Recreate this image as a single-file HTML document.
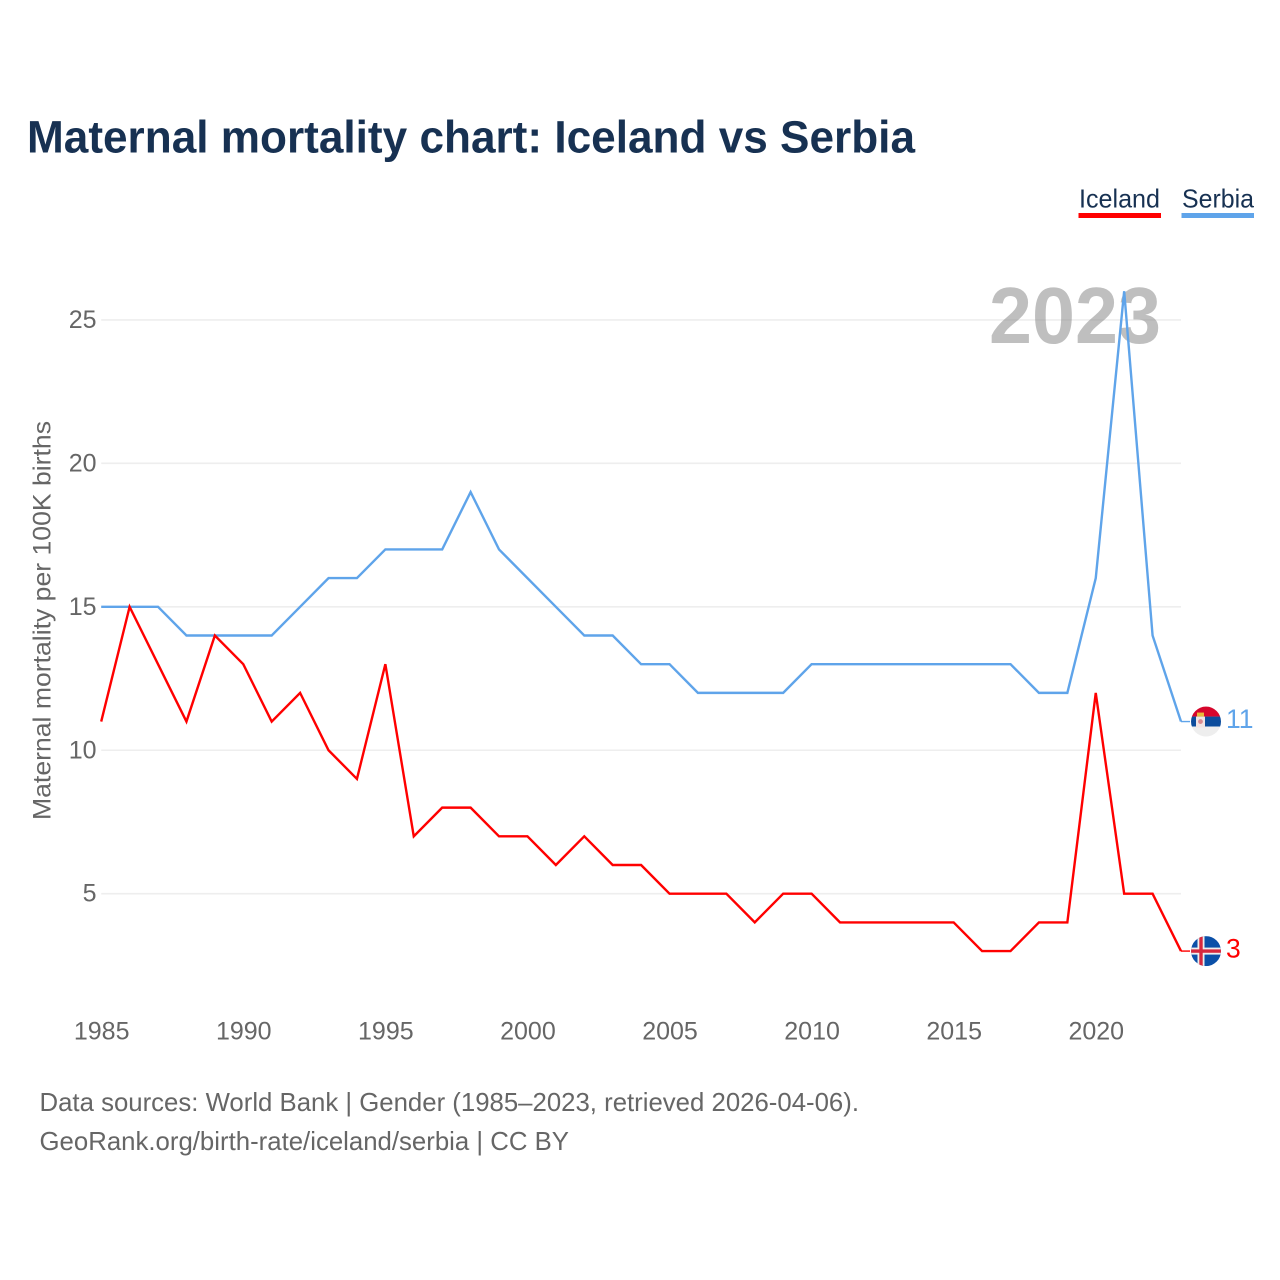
<!DOCTYPE html>
<html lang="en">
<head>
<meta charset="utf-8">
<title>Maternal mortality chart: Iceland vs Serbia</title>
<style>
html,body{margin:0;padding:0;background:#fff;}
svg{display:block;font-family:"Liberation Sans",sans-serif;}
</style>
</head>
<body>
<svg id="chart" xmlns="http://www.w3.org/2000/svg" width="1280" height="1280" viewBox="0 0 1280 1280">
  <defs>
    <clipPath id="clip-flag-serbia"><circle cx="0" cy="0" r="15"/></clipPath>
    <clipPath id="clip-flag-iceland"><circle cx="0" cy="0" r="15"/></clipPath>
  </defs>
  <rect x="0" y="0" width="1280" height="1280" fill="#fff"/>
  <text x="27" y="152.5" font-size="45" font-weight="700" fill="#173152" textLength="888" lengthAdjust="spacingAndGlyphs">Maternal mortality chart: Iceland vs Serbia</text>

  <g>
    <g>
      <text x="1079" y="207.5" font-size="26" fill="#173152" textLength="81" lengthAdjust="spacingAndGlyphs">Iceland</text>
      <rect x="1078.5" y="213" width="82.5" height="5" fill="#ff0000"/>
    </g>
    <g>
      <text x="1182" y="207.5" font-size="26" fill="#173152" textLength="72" lengthAdjust="spacingAndGlyphs">Serbia</text>
      <rect x="1181.5" y="213" width="72.5" height="5" fill="#5fa4ea"/>
    </g>
  </g>

  <g id="grid"></g>
  <text x="989" y="343" font-size="80" font-weight="700" fill="#8a8a8a" fill-opacity="0.55" textLength="172" lengthAdjust="spacingAndGlyphs">2023</text>
  <g id="y-ticks"></g>
  <g id="x-ticks"></g>
  <text transform="translate(50.5,820) rotate(-90)" x="0" y="0" font-size="25" fill="#666" textLength="399" lengthAdjust="spacingAndGlyphs">Maternal mortality per 100K births</text>
  <g id="series"></g>
  <g id="ends"></g>

  <text x="39.5" y="1111" font-size="26" fill="#666" textLength="819.5" lengthAdjust="spacingAndGlyphs">Data sources: World Bank | Gender (1985–2023, retrieved 2026-04-06).</text>
  <text x="39.5" y="1150" font-size="26" fill="#666" textLength="529.5" lengthAdjust="spacingAndGlyphs">GeoRank.org/birth-rate/iceland/serbia | CC BY</text>
</svg>
<script>
const years = [1985,1986,1987,1988,1989,1990,1991,1992,1993,1994,1995,1996,1997,1998,1999,2000,2001,2002,2003,2004,2005,2006,2007,2008,2009,2010,2011,2012,2013,2014,2015,2016,2017,2018,2019,2020,2021,2022,2023];
const serbiaValues = [15,15,15,14,14,14,14,15,16,16,17,17,17,19,17,16,15,14,14,13,13,12,12,12,12,13,13,13,13,13,13,13,13,12,12,16,26,14,11];
const icelandValues = [11,15,13,11,14,13,11,12,10,9,13,7,8,8,7,7,6,7,6,6,5,5,5,4,5,5,4,4,4,4,4,3,3,4,4,12,5,5,3];
const xTickLabels = [1985,1990,1995,2000,2005,2010,2015,2020];
const yTickLabels = [5,10,15,20,25];

const NS = 'http://www.w3.org/2000/svg';
const xLeft = 101.2, xRight = 1181, yearMin = 1985, yearMax = 2023;
const y5 = 893.7, y25 = 319.9;
function xScale(year){ return xLeft + (year - yearMin) * (xRight - xLeft) / (yearMax - yearMin); }
function yScale(v){ return y5 + (v - 5) * (y25 - y5) / 20; }
function make(tag, parent, attrs){
  const el = document.createElementNS(NS, tag);
  for (const k in attrs) el.setAttribute(k, attrs[k]);
  parent.appendChild(el);
  return el;
}

const gridG = document.getElementById('grid');
const yG = document.getElementById('y-ticks');
const xG = document.getElementById('x-ticks');
const seriesG = document.getElementById('series');
const endsG = document.getElementById('ends');

yTickLabels.forEach(function(v){
  const line = make('line', gridG, {x1:xLeft, x2:xRight, y1:yScale(v), y2:yScale(v), stroke:'#eeeeee', 'stroke-width':1.6});
  
  
  const t = make('text', yG, {x:96.5, y:yScale(v) + 8, 'text-anchor':'end', 'font-size':25, fill:'#666'});
  
  
  t.textContent = v;
});

xTickLabels.forEach(function(yr){
  const t = make('text', xG, {x:xScale(yr) + 0.5, y:1039.5, 'text-anchor':'middle', 'font-size':25, fill:'#666'});
  
  
  t.textContent = yr;
});

function linePoints(values){
  return values.map(function(v, i){ return xScale(years[i]).toFixed(2) + ',' + yScale(v).toFixed(2); }).join(' ');
}

const serbiaLine = make('polyline', seriesG, {points:linePoints(serbiaValues), fill:'none', stroke:'#5fa4ea', 'stroke-width':2.4, 'stroke-linejoin':'miter'});


const icelandLine = make('polyline', seriesG, {points:linePoints(icelandValues), fill:'none', stroke:'#ff0000', 'stroke-width':2.4, 'stroke-linejoin':'miter'});



function endMarker(values, colour){
  const last = values[values.length - 1];
  const px = xScale(years[years.length - 1]);
  const py = yScale(last);
  make('line', endsG, {x1:px, x2:px + 9, y1:py, y2:py, stroke:colour, 'stroke-width':1.4});
  const label = make('text', endsG, {x:px + 45, y:py + 6.5, 'font-size':26.5, fill:colour});
  label.textContent = last;
  return {label:label, g:make('g', endsG, {transform:'translate(' + (px + 25) + ',' + py + ')'})};
}

const serbiaEnd = endMarker(serbiaValues, '#5fa4ea');




serbiaEnd.g.setAttribute('clip-path', 'url(#clip-flag-serbia)');
make('rect', serbiaEnd.g, {x:-15, y:-15, width:30, height:10, fill:'#d6062c'});
make('rect', serbiaEnd.g, {x:-15, y:-5, width:30, height:10, fill:'#0c4c9c'});
make('rect', serbiaEnd.g, {x:-15, y:5, width:30, height:10, fill:'#eeeeee'});
make('rect', serbiaEnd.g, {x:-10, y:-5, width:9, height:11, fill:'#f0e4e4'});
make('rect', serbiaEnd.g, {x:-9, y:-9, width:7, height:4, fill:'#e8b93a'});
make('circle', serbiaEnd.g, {cx:-5.5, cy:0, r:2.4, fill:'#d98a90'});

const icelandEnd = endMarker(icelandValues, '#ff0000');




icelandEnd.g.setAttribute('clip-path', 'url(#clip-flag-iceland)');
make('rect', icelandEnd.g, {x:-15, y:-15, width:30, height:30, fill:'#0b50a8'});
make('rect', icelandEnd.g, {x:-15, y:-3.5, width:30, height:7, fill:'#eeeeee'});
make('rect', icelandEnd.g, {x:-8.5, y:-15, width:7, height:30, fill:'#eeeeee'});
make('rect', icelandEnd.g, {x:-15, y:-1.7, width:30, height:3.4, fill:'#d7283e'});
make('rect', icelandEnd.g, {x:-6.7, y:-15, width:3.4, height:30, fill:'#d7283e'});
</script>
</body>
</html>
